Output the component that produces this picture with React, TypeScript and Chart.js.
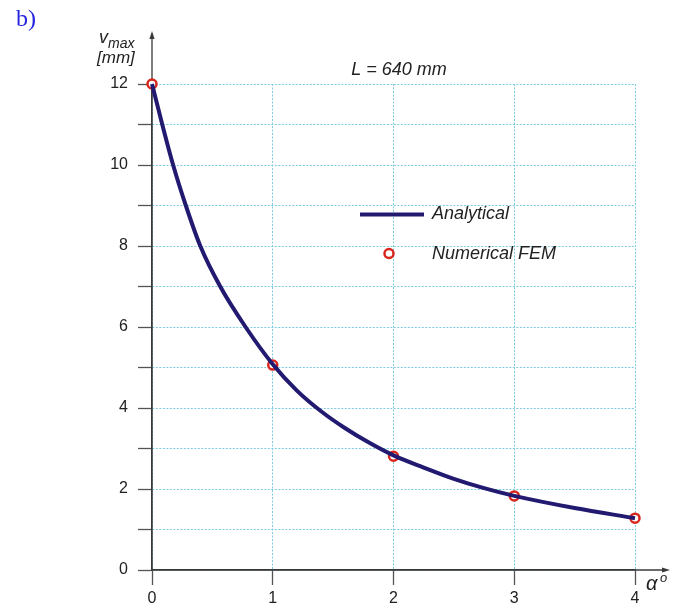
import React, { useEffect, useRef } from "react";
import { Chart, registerables } from "chart.js";

Chart.register(...registerables);

// Analytical curve (alpha in degrees, v_max in mm)
const analyticalAlpha = [0, 0.085, 0.175, 0.28, 0.4, 0.565, 0.775, 1.0, 1.2, 1.4, 1.6, 1.8, 2.0, 2.25, 2.5, 2.75, 3.0, 3.5, 4.0];
const analyticalV = [12, 11, 10, 9, 8, 7, 6, 5.08, 4.43, 3.92, 3.5, 3.14, 2.83, 2.53, 2.25, 2.02, 1.83, 1.53, 1.28];

// Numerical FEM points
const femAlpha = [0, 1, 2, 3, 4];
const femV = [12, 5.06, 2.81, 1.83, 1.28];

const xTicks = [0, 1, 2, 3, 4];
const yLabelled = [0, 2, 4, 6, 8, 10, 12];

const titleText = "L = 640 mm";
const legendLabels = ["Analytical", "Numerical FEM"];

const NAVY = "#211a70";
const RED = "#d8261c";
const GRID = "#7ccbe0";
const AXIS = "#3a3a3a";
const TEXT = "#222222";
const SANS = '"Liberation Sans", Arial, sans-serif';

export default function App() {
  const ref = useRef<HTMLCanvasElement>(null);

  useEffect(() => {
    const canvas = ref.current;
    if (!canvas) return;

    const overlay = {
      id: "overlay",
      beforeDatasetsDraw(chart: any) {
        const { ctx, chartArea } = chart;
        const { left, bottom } = chartArea;
        ctx.save();
        ctx.strokeStyle = AXIS;
        ctx.fillStyle = AXIS;
        ctx.lineWidth = 1.3;
        // y axis with arrow
        ctx.beginPath();
        ctx.moveTo(left, bottom);
        ctx.lineTo(left, 37);
        ctx.stroke();
        ctx.beginPath();
        ctx.moveTo(left, 31);
        ctx.lineTo(left - 2.6, 39);
        ctx.lineTo(left + 2.6, 39);
        ctx.closePath();
        ctx.fill();
        // x axis with arrow
        ctx.beginPath();
        ctx.moveTo(left, bottom);
        ctx.lineTo(664, bottom);
        ctx.stroke();
        ctx.beginPath();
        ctx.moveTo(670, bottom);
        ctx.lineTo(662, bottom - 2.6);
        ctx.lineTo(662, bottom + 2.6);
        ctx.closePath();
        ctx.fill();
        ctx.restore();
      },
      afterDraw(chart: any) {
        const { ctx } = chart;
        ctx.save();
        ctx.fillStyle = TEXT;
        ctx.textBaseline = "alphabetic";
        // title
        ctx.font = `italic 18px ${SANS}`;
        ctx.textAlign = "center";
        ctx.fillText(titleText, 399, 75);
        // y axis title
        ctx.textAlign = "left";
        ctx.font = `italic 18px ${SANS}`;
        ctx.fillText("v", 99, 43);
        ctx.font = `italic 14px ${SANS}`;
        ctx.fillText("max", 108, 48);
        ctx.font = `italic 17px ${SANS}`;
        ctx.fillText("[mm]", 97, 63);
        // x axis title
        ctx.font = `italic 20px ${SANS}`;
        ctx.fillText("\u03b1", 646, 590);
        ctx.font = `italic 13px ${SANS}`;
        ctx.fillText("o", 660, 582);

        // legend
        ctx.strokeStyle = NAVY;
        ctx.lineWidth = 4;
        ctx.beginPath();
        ctx.moveTo(360, 214.5);
        ctx.lineTo(424, 214.5);
        ctx.stroke();
        ctx.beginPath();
        ctx.arc(389, 253.5, 4.5, 0, Math.PI * 2);
        ctx.fillStyle = "#ffffff";
        ctx.fill();
        ctx.strokeStyle = RED;
        ctx.lineWidth = 2.5;
        ctx.stroke();
        ctx.fillStyle = TEXT;
        ctx.font = `italic 18px ${SANS}`;
        ctx.textBaseline = "middle";
        ctx.fillText(legendLabels[0], 432, 214);
        ctx.fillText(legendLabels[1], 432, 254);
        ctx.restore();
      },
    };

    const chart = new Chart(canvas, {
      type: "line",
      data: {
        datasets: [
          {
            label: legendLabels[0],
            data: analyticalAlpha.map((a, i) => ({ x: a, y: analyticalV[i] })),
            borderColor: NAVY,
            backgroundColor: NAVY,
            borderWidth: 4,
            pointRadius: 0,
            cubicInterpolationMode: "monotone",
            fill: false,
            clip: false,
          } as any,
          {
            label: legendLabels[1],
            data: femAlpha.map((a, i) => ({ x: a, y: femV[i] })),
            showLine: false,
            pointRadius: 4.5,
            pointBorderWidth: 2.5,
            pointBorderColor: RED,
            pointBackgroundColor: "#ffffff",
            borderColor: RED,
            backgroundColor: "#ffffff",
            clip: false,
          } as any,
        ],
      },
      options: {
        responsive: false,
        animation: false,
        layout: { padding: { left: 8, top: 84, right: 48, bottom: 0 } },
        plugins: {
          legend: { display: false },
          tooltip: { enabled: false },
          title: { display: false },
        },
        scales: {
          x: {
            type: "linear",
            min: 0,
            max: 4,
            afterBuildTicks: (scale: any) => {
              scale.ticks = xTicks.map((v) => ({ value: v }));
            },
            ticks: {
              color: TEXT,
              font: { family: SANS, size: 16 },
              padding: 4,
              maxRotation: 0,
              autoSkip: false,
            },
            grid: {
              color: GRID,
              lineWidth: 1,
              drawTicks: true,
              tickLength: 15,
              tickColor: "#555555",
              tickWidth: 1.3,
              tickBorderDash: [],
            },
            border: { display: true, color: AXIS, width: 1.3, dash: [2, 1.5] },
            afterFit: (scale: any) => {
              scale.height = 39;
            },
          },
          y: {
            type: "linear",
            min: 0,
            max: 12,
            ticks: {
              stepSize: 1,
              autoSkip: false,
              color: TEXT,
              font: { family: SANS, size: 16 },
              padding: 10,
              callback: (v: any) => (yLabelled.includes(Number(v)) ? String(v) : ""),
            },
            grid: {
              color: GRID,
              lineWidth: 1,
              drawTicks: true,
              tickLength: 14,
              tickColor: "#555555",
              tickWidth: 1.3,
              tickBorderDash: [],
            },
            border: { display: true, color: AXIS, width: 1.3, dash: [2, 1.5] },
            afterFit: (scale: any) => {
              scale.width = 144;
            },
          },
        },
      } as any,
      plugins: [overlay],
    });

    return () => chart.destroy();
  }, []);

  return (
    <div style={{ position: "absolute", left: 0, top: 0, width: 683, height: 609, background: "#ffffff" }}>
      <canvas
        ref={ref}
        width={683}
        height={609}
        style={{ position: "absolute", left: 0, top: 0, width: 683, height: 609 }}
      />
      <div
        style={{
          position: "absolute",
          left: 16,
          top: 6,
          fontFamily: '"Liberation Serif", "Times New Roman", serif',
          fontSize: 24,
          lineHeight: "24px",
          color: "#2525e0",
        }}
      >
        b)
      </div>
    </div>
  );
}
